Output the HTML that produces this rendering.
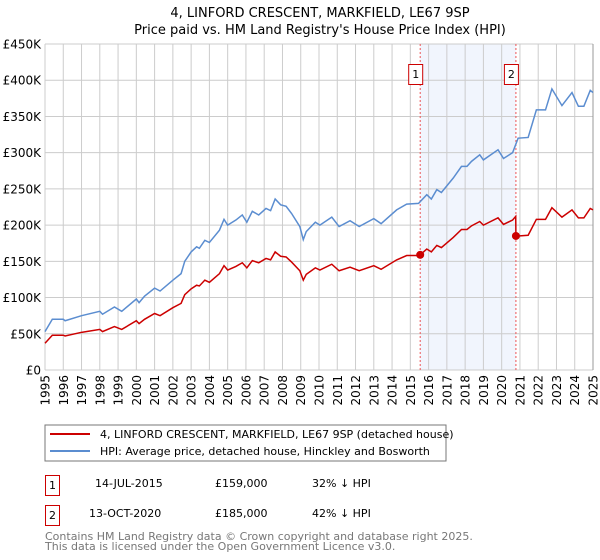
<!DOCTYPE html>
<html><head><meta charset="utf-8"><style>
body{margin:0;background:#fff;}
svg{display:block;font-family:"DejaVu Sans","Liberation Sans",sans-serif;}
</style></head><body>
<svg width="600" height="560" id="chart">
<text x="320" y="17" text-anchor="middle" font-size="13">4, LINFORD CRESCENT, MARKFIELD, LE67 9SP</text>
<text x="320" y="34" text-anchor="middle" font-size="13">Price paid vs. HM Land Registry's House Price Index (HPI)</text>
<g id="plot"></g>
<rect x="45" y="425" width="401" height="36" fill="#fff" stroke="#777"/>
<line x1="50" y1="434" x2="90" y2="434" stroke="#cc0000" stroke-width="2"/>
<text x="100" y="438" font-size="11">4, LINFORD CRESCENT, MARKFIELD, LE67 9SP (detached house)</text>
<line x1="50" y1="451" x2="90" y2="451" stroke="#5b8dd0" stroke-width="2"/>
<text x="100" y="455" font-size="11">HPI: Average price, detached house, Hinckley and Bosworth</text>
<rect x="45.5" y="475.5" width="14" height="20" fill="#fff" stroke="#cc0000"/>
<text x="52.5" y="489" text-anchor="middle" font-size="11">1</text>
<text x="95" y="487" font-size="11">14-JUL-2015</text>
<text x="215" y="487" font-size="11">£159,000</text>
<text x="312" y="487" font-size="11">32% ↓ HPI</text>
<rect x="45.5" y="505.5" width="14" height="20" fill="#fff" stroke="#cc0000"/>
<text x="52.5" y="519" text-anchor="middle" font-size="11">2</text>
<text x="89" y="517" font-size="11">13-OCT-2020</text>
<text x="215" y="517" font-size="11">£185,000</text>
<text x="312" y="517" font-size="11">42% ↓ HPI</text>
<text x="45" y="540" font-size="11" fill="#777">Contains HM Land Registry data © Crown copyright and database right 2025.</text>
<text x="45" y="550" font-size="11" fill="#777">This data is licensed under the Open Government Licence v3.0.</text>
</svg>
<script>
const yTicks=[0,50,100,150,200,250,300,350,400,450];
const yTickLabels=["£0","£50K","£100K","£150K","£200K","£250K","£300K","£350K","£400K","£450K"];
const years=[1995,1996,1997,1998,1999,2000,2001,2002,2003,2004,2005,2006,2007,2008,2009,2010,2011,2012,2013,2014,2015,2016,2017,2018,2019,2020,2021,2022,2023,2024,2025];
const hpiDates=[1995.0,1995.4,1996.0,1996.1,1997.0,1998.0,1998.15,1998.8,1999.2,2000.0,2000.15,2000.45,2001.0,2001.3,2002.0,2002.45,2002.65,2003.0,2003.3,2003.45,2003.75,2004.0,2004.55,2004.8,2005.0,2005.45,2005.8,2006.05,2006.35,2006.7,2007.1,2007.35,2007.6,2007.9,2008.2,2008.5,2008.95,2009.14,2009.3,2009.8,2010.05,2010.7,2011.1,2011.7,2012.2,2013.0,2013.4,2014.25,2014.8,2015.45,2015.9,2016.15,2016.45,2016.7,2017.35,2017.8,2018.1,2018.35,2018.8,2019.0,2019.8,2020.1,2020.6,2020.9,2021.45,2021.9,2022.4,2022.75,2023.3,2023.85,2024.2,2024.5,2024.85,2025.0];
const hpiValues=[53,70,70,68,75,81,77,87,81,98,93,102,113,109,124,133,150,163,170,168,179,176,193,208,200,207,214,204,219,214,223,220,236,228,226,216,198,180,191,204,200,211,198,206,198,209,202,221,229,230,242,236,249,245,265,281,281,288,297,290,304,292,300,320,321,359,359,388,365,383,364,364,386,383];
const priceDates=[1995.0,1995.4,1996.0,1996.1,1997.0,1998.0,1998.15,1998.8,1999.2,2000.0,2000.15,2000.45,2001.0,2001.3,2002.0,2002.45,2002.65,2003.0,2003.3,2003.45,2003.75,2004.0,2004.55,2004.8,2005.0,2005.45,2005.8,2006.05,2006.35,2006.7,2007.1,2007.35,2007.6,2007.9,2008.2,2008.5,2008.95,2009.14,2009.3,2009.8,2010.05,2010.7,2011.1,2011.7,2012.2,2013.0,2013.4,2014.25,2014.8,2015.45,2015.54,2015.9,2016.15,2016.45,2016.7,2017.35,2017.8,2018.1,2018.35,2018.8,2019.0,2019.8,2020.1,2020.6,2020.77,2020.78,2020.9,2021.45,2021.9,2022.4,2022.75,2023.3,2023.85,2024.2,2024.5,2024.85,2025.0];
const priceValues=[37,48,48,47,52,56,53,60,56,68,64,70,78,75,86,92,104,112,117,116,124,121,133,144,138,143,148,141,151,148,154,152,163,157,156,149,137,124,132,141,138,146,137,142,137,144,139,152,158,158,159,167,163,172,169,183,194,194,199,205,200,210,201,207,212,185,185,186,208,208,224,211,221,210,210,223,221];
const saleDates=[2015.54,2020.78];
const saleValues=[159,185];
const saleLabels=["1","2"];

const X0=45,X1=593,Y0=370,Y1=44;
const x=t=>X0+(t-1995)/(2025-1995)*(X1-X0);
const y=v=>Y0-v/450*(Y0-Y1);
const NS="http://www.w3.org/2000/svg";
const plot=document.getElementById('plot');
function mk(tag,attrs,parent){const e=document.createElementNS(NS,tag);for(const k in attrs)e.setAttribute(k,attrs[k]);(parent||plot).appendChild(e);return e;}

const shade=mk('rect',{x:x(saleDates[0]),y:Y1,width:x(saleDates[1])-x(saleDates[0]),height:Y0-Y1,fill:'#eef3fc',opacity:0.8});



yTicks.forEach((v,i)=>{
  const g=mk('line',{x1:X0,x2:X1,y1:y(v),y2:y(v),stroke:'#cccccc','stroke-width':1});
  
  
  const t=mk('text',{x:X0-4,y:y(v)+4.5,'text-anchor':'end','font-size':12});
  t.textContent=yTickLabels[i];
  
  
});
years.forEach(yr=>{
  const g=mk('line',{x1:x(yr),x2:x(yr),y1:Y1,y2:Y0,stroke:'#cccccc','stroke-width':1});
  
  
  const t=mk('text',{x:0,y:0,'text-anchor':'end','font-size':12,transform:`translate(${x(yr)+4.5},${Y0+5}) rotate(-90)`});
  t.textContent=yr;
  
  
});
const ax=mk('line',{x1:X1,x2:X1,y1:Y1,y2:Y0,stroke:'#999'});



saleDates.forEach((d,i)=>{
  const l=mk('line',{x1:x(d),x2:x(d),y1:Y1,y2:Y0,stroke:'#ee5555','stroke-width':1,'stroke-dasharray':'2,2'});
  
  
});

const hpiPath=mk('polyline',{points:hpiDates.map((d,i)=>x(d)+','+y(hpiValues[i])).join(' '),fill:'none',stroke:'#5b8dd0','stroke-width':1.5});


const pPath=mk('polyline',{points:priceDates.map((d,i)=>x(d)+','+y(priceValues[i])).join(' '),fill:'none',stroke:'#cc0000','stroke-width':1.5});



saleDates.forEach((d,i)=>{
  const c=mk('circle',{cx:x(d),cy:y(saleValues[i]),r:4,fill:'#cc0000'});
  
  
  const b=mk('rect',{x:x(d)-11.5,y:64.5,width:14,height:20,fill:'#fff',stroke:'#cc0000'});
  
  
  const t=mk('text',{x:x(d)-4.5,y:78,'text-anchor':'middle','font-size':11});
  t.textContent=saleLabels[i];
  
  
});
</script>
</body></html>
